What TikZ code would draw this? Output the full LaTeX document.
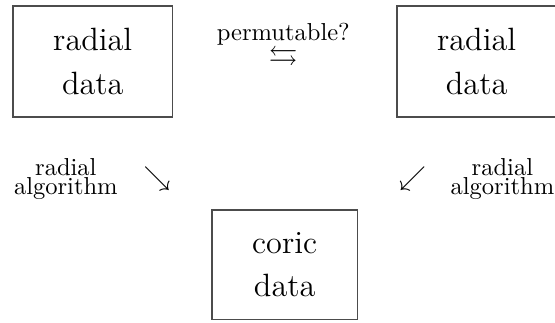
\documentclass[tikz,border=0pt]{standalone}
\usepackage{amssymb}
\newcommand\mylabelfont{\fontsize{10.95}{8.2}\selectfont\lineskiplimit=-20pt\relax}
\tikzset{
  databox/.style={draw=black!70, line width=0.65pt, inner xsep=17.9pt, inner ysep=10pt, align=center, font=\fontsize{14.4}{19.4}\selectfont},
  sidelabel/.style={align=center, inner sep=0pt, font=\mylabelfont},
  arrowglyph/.style={inner sep=0pt, font=\fontsize{12.8}{15}\selectfont},
}
\begin{document}
\begin{tikzpicture}[x=1pt,y=1pt]
\useasboundingbox (0,0) rectangle (247.8,-144.2);
\node[databox] (r1) at (41.4,-27.5) {radial\\data};
\node[databox] (r2) at (212.8,-27.5) {radial\\data};
\node[databox] (c) at (127.1,-118.2) {coric\\data};
\node[sidelabel, anchor=base] (perm) at (126.5,-17.9) {permutable?};
\node[arrowglyph] (swap) at (126.5,-26.2) {$\leftrightarrows$};
\node[sidelabel] (la) at (29.4,-79.9) {radial\\algorithm};
\node[arrowglyph] (a1) at (70.1,-79.9) {$\searrow$};
\node[arrowglyph] (a2) at (184.2,-79.9) {$\swarrow$};
\node[sidelabel] (lb) at (224.3,-79.9) {radial\\algorithm};
\end{tikzpicture}
\end{document}
